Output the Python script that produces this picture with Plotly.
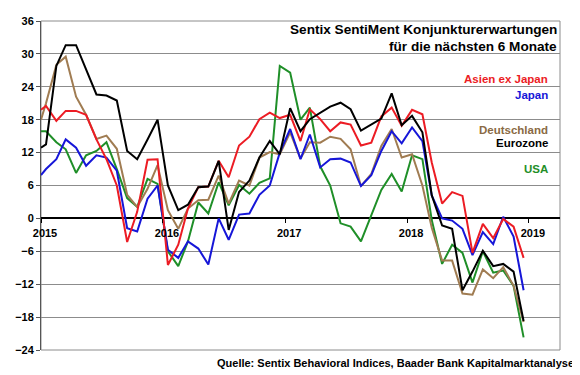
import plotly.graph_objects as go

# x positions: first point at start of Jan 2015, then mid-month Jan 2015 .. Dec 2018
months = ["2015-01-01"] + [f"{y}-{m:02d}-16" for y in range(2015, 2019) for m in range(1, 13)]

asien = [19.8, 20.5, 17.8, 19.6, 19.6, 18.9, 14.4, 10.8, 6.0, -4.3, 1.2, 10.7, 10.8, -8.5, -4.8, 1.8,
         5.7, 5.8, 10.5, 7.5, 13.3, 14.9, 18.1, 19.3, 18.3, 18.9, 14.1, 19.9, 18.1, 15.9, 17.5, 17.1,
         13.3, 13.8, 18.6, 20.2, 16.9, 19.8, 19.0, 10.2, 2.7, 4.8, 4.1, -6.3, -1.0, -3.6, -0.1, -1.5, -7.2]
japan = [7.9, 9.0, 10.8, 14.4, 12.9, 9.6, 11.5, 11.1, 8.7, -1.8, -2.4, 3.6, 6.0, -5.7, -7.2, -4.2,
         -5.5, -8.4, 0.0, -3.9, 0.7, 0.9, 4.3, 6.0, 12.0, 16.3, 10.8, 15.3, 9.3, 10.8, 10.9, 10.2,
         5.9, 7.9, 12.3, 15.9, 13.7, 16.6, 14.1, 4.2, 0.0, -0.4, -1.9, -6.7, -2.5, -4.7, 0.3, -3.3, -13.1]
deutschland = [18.0, 21.0, 28.0, 29.5, 22.2, 18.9, 14.5, 15.1, 12.7, 4.3, 2.1, 5.4, 9.7, 1.5, -1.9, 1.8,
               3.3, 3.4, 7.8, 2.7, 6.9, 6.0, 11.1, 12.1, 11.7, 15.7, 10.9, 13.9, 13.8, 14.9, 14.5, 12.6,
               5.9, 8.1, 13.2, 16.3, 11.1, 11.7, 6.0, -1.7, -7.7, -7.7, -13.7, -13.9, -9.3, -10.9, -8.9, -12.3, -18.9]
eurozone = [12.9, 13.5, 27.8, 31.6, 31.6, 27.0, 22.6, 22.4, 21.5, 12.3, 10.8, 14.4, 18.0, 6.0, 1.5, 2.5,
            5.7, 5.8, 10.5, -2.1, 4.8, 6.9, 11.1, 14.1, 11.7, 20.1, 15.9, 18.1, 19.2, 20.4, 21.1, 19.9,
            16.0, 17.1, 18.2, 22.8, 17.0, 18.7, 15.7, 4.2, -1.3, -1.9, -13.1, -9.7, -5.9, -8.7, -8.3, -9.7, -18.7]
usa = [15.9, 15.9, 13.9, 12.6, 8.3, 11.5, 12.3, 13.9, 9.0, 3.7, 2.1, 7.2, 6.3, -6.0, -8.7, -4.2,
       2.9, 0.9, 6.6, 2.4, 6.1, 4.5, 6.5, 7.3, 27.8, 26.6, 18.0, 20.2, 9.5, 6.0, -0.9, -1.5,
       -4.2, 0.5, 5.2, 8.1, 4.9, 11.5, 10.8, -0.3, -8.3, -4.8, -6.3, -11.7, -6.0, -9.9, -9.5, -12.3, -21.7]

year_ticks = ["2015-01-01", "2016-01-01", "2017-01-01", "2018-01-01", "2019-01-01"]
year_labels = ["2015", "2016", "2017", "2018", "2019"]
y_ticks = [-24, -18, -12, -6, 0, 6, 12, 18, 24, 30, 36]

series = [
    ("USA", usa, "#1f8f28"),
    ("Deutschland", deutschland, "#a07c52"),
    ("Japan", japan, "#1616d8"),
    ("Asien ex Japan", asien, "#ec1c24"),
    ("Eurozone", eurozone, "#000000"),
]

fig = go.Figure()
for name, vals, col in series:
    fig.add_trace(go.Scatter(x=months, y=vals, mode="lines", name=name,
                             line=dict(color=col, width=2)))

FONT = "Arial, Liberation Sans, sans-serif"

# the page body adds an 8px offset, so the figure is 8px smaller on each axis
fig.update_layout(
    width=572, height=367,
    margin=dict(l=27, r=20, t=7, b=25),
    paper_bgcolor="white", plot_bgcolor="white",
    showlegend=False,
    font=dict(family=FONT, color="#000000"),
    xaxis=dict(
        type="date",
        range=["2015-01-01", "2019-04-04"],
        tickvals=year_ticks, ticktext=year_labels,
        showgrid=False, zeroline=False,
        anchor="free", position=0.4,
        showline=False,
        ticks="outside", ticklen=4, tickcolor="#000000",
        tickfont=dict(size=11, family=FONT, weight="bold", color="#000000"),
        ticklabelshift=4, ticklabelstandoff=0,
    ),
    yaxis=dict(
        range=[-24, 36],
        tickvals=y_ticks,
        showgrid=True, gridcolor="#8c8c8c", gridwidth=1,
        zeroline=True, zerolinecolor="#000000", zerolinewidth=2,
        showline=True, linecolor="#555555", linewidth=1,
        ticks="outside", ticklen=4, tickcolor="#555555",
        tickfont=dict(size=11, family=FONT, weight="bold", color="#000000"),
    ),
    shapes=[dict(type="rect", xref="paper", yref="paper", x0=0, x1=1, y0=0, y1=1,
                 line=dict(color="#8c8c8c", width=1), layer="below")],
)

def ann(text, x, y, color, size, xanchor="right"):
    fig.add_annotation(text=text, xref="paper", yref="paper", x=x, y=y,
                       xanchor=xanchor, yanchor="middle", showarrow=False,
                       font=dict(family=FONT, size=size, color=color, weight="bold"))

ann("Sentix SentiMent Konjunkturerwartungen", 0.998, 0.973, "#000000", 13.6)
ann("für die nächsten 6 Monate", 0.998, 0.922, "#000000", 13.6)
ann("Asien ex Japan", 0.98, 0.824, "#ec1c24", 11.5)
ann("Japan", 0.98, 0.776, "#1616d8", 11.5)
ann("Deutschland", 0.98, 0.669, "#8a6a44", 11.5)
ann("Eurozone", 0.98, 0.628, "#000000", 11.5)
ann("USA", 0.98, 0.550, "#1f8f28", 11.5)
ann("Quelle: Sentix Behavioral Indices, Baader Bank Kapitalmarktanalyse", 1.031, -0.039, "#000000", 11)

fig.write_html("out.html")
